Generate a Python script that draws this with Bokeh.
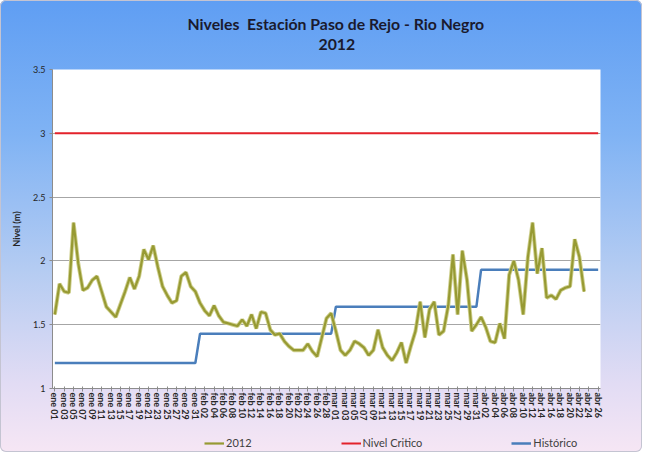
from bokeh.plotting import figure
from bokeh.layouts import column
from bokeh.models import Range1d, FixedTicker, Legend, LegendItem, Title
from bokeh.embed import file_html
from bokeh.resources import INLINE

# ---------------- data ----------------
months = ["ene", "feb", "mar", "abr"]
days_in_month = [31, 29, 31, 26]
dates = [f"{m} {d:02d}" for m, n in zip(months, days_in_month) for d in range(1, n + 1)]

nivel_2012 = [
    1.58, 1.82, 1.76, 1.75, 2.30, 1.98, 1.77, 1.79, 1.85, 1.88,
    1.76, 1.64, 1.60, 1.56, 1.66, 1.76, 1.87, 1.78, 1.88, 2.09,
    2.01, 2.12, 1.95, 1.80, 1.73, 1.67, 1.69, 1.88, 1.91, 1.80,
    1.76, 1.67, 1.61, 1.57, 1.65, 1.57, 1.52, 1.51, 1.50, 1.49,
    1.54, 1.49, 1.58, 1.47, 1.60, 1.59, 1.46, 1.42, 1.43, 1.37,
    1.33, 1.30, 1.30, 1.30, 1.35, 1.29, 1.25, 1.40, 1.55, 1.59,
    1.45, 1.30, 1.26, 1.30, 1.37, 1.35, 1.32, 1.26, 1.30, 1.46,
    1.32, 1.26, 1.22, 1.28, 1.36, 1.20, 1.33, 1.45, 1.68, 1.40,
    1.62, 1.68, 1.42, 1.45, 1.65, 2.05, 1.58, 2.08, 1.85, 1.45,
    1.50, 1.56, 1.48, 1.37, 1.36, 1.51, 1.39, 1.89, 2.00, 1.85,
    1.58, 2.03, 2.30, 1.90, 2.10, 1.71, 1.73, 1.70, 1.77, 1.79,
    1.80, 2.17, 2.03, 1.76,
]
nivel_critico = 3.0
historico_mensual = [1.20, 1.43, 1.64, 1.93]

y_ticks = [1, 1.5, 2, 2.5, 3, 3.5]
y_tick_labels = ["1", "1.5", "2", "2.5", "3", "3.5"]
grid_levels = [1.5, 2, 2.5, 3]

title_1 = "Niveles\u00a0 Estación Paso de Rejo - Rio Negro"
title_2 = "2012"
legend_labels = ["2012", "Nivel Critico", "Histórico"]

# ---------------- derived series ----------------
idx_all = list(range(len(dates)))
idx_2012 = list(range(len(nivel_2012)))
critico = [nivel_critico for _ in dates]
historico = [v for v, n in zip(historico_mensual, days_in_month) for _ in range(n)]

FONT = "Lato"
TXT = "#262626"
C_2012, C_CRIT, C_HIST = "#979a33", "#e3222b", "#4a7ebb"

W, H = 642, 452
H1 = 430               # main chart height, legend strip below
LH = H - H1
ML, MR, MT = 52, 42, 69
MB = H1 - 388

p = figure(width=W, height=H1, output_backend="svg", toolbar_location=None,
           title=None,
           x_range=Range1d(-0.5, len(dates) - 0.5), y_range=Range1d(1, 3.5),
           min_border_left=ML, min_border_right=MR, min_border_top=MT, min_border_bottom=MB)

p.border_fill_color = None
p.background_fill_color = "white"
p.outline_line_color = None

# titles: spacer nearest the plot, then "2012", then the main line
p.add_layout(Title(text="\u00a0", text_font_size="1px", standoff=17), "above")
p.add_layout(Title(text=title_2, align="left", offset=266, standoff=0,
                   text_font=FONT, text_font_size="15.8px", text_font_style="bold",
                   text_color="#1a1a2e"), "above")
p.add_layout(Title(text=title_1, align="left", offset=135, standoff=7,
                   text_font=FONT, text_font_size="15.8px", text_font_style="bold",
                   text_color="#1a1a2e"), "above")

# lines
p.line(idx_all, critico, line_color=C_CRIT, line_width=2)
p.line(idx_all, historico, line_color=C_HIST, line_width=2.5)
p.line(idx_2012, nivel_2012, line_color="#cfd08f", line_width=4)
p.line(idx_2012, nivel_2012, line_color=C_2012, line_width=2.2)

# axes
p.yaxis.ticker = FixedTicker(ticks=y_ticks)
p.yaxis.major_label_overrides = {t: l for t, l in zip(y_ticks, y_tick_labels)}
p.yaxis.axis_label = "Nivel (m)"
p.yaxis.axis_label_text_font = FONT
p.yaxis.axis_label_text_font_size = "9px"
p.yaxis.axis_label_text_font_style = "bold"
p.yaxis.axis_label_text_color = TXT
p.yaxis.axis_label_standoff = 8
p.yaxis.major_label_text_font = FONT
p.yaxis.major_label_text_font_size = "9px"
p.yaxis.major_label_text_color = TXT
p.yaxis.axis_line_color = "#8c8c8c"
p.yaxis.major_tick_line_color = "#8c8c8c"
p.yaxis.major_tick_out = 3
p.yaxis.major_tick_in = 0
p.yaxis.minor_tick_line_color = None
p.yaxis.major_label_standoff = 4

p.xaxis.ticker = FixedTicker(ticks=idx_all[::2])
p.xaxis.major_label_overrides = {i: dates[i] for i in idx_all[::2]}
p.xaxis.major_label_orientation = "vertical"
p.xaxis.major_label_text_font = FONT
p.xaxis.major_label_text_font_size = "9px"
p.xaxis.major_label_text_font_style = "bold"
p.xaxis.major_label_text_color = TXT
p.xaxis.axis_line_color = "#8c8c8c"
p.xaxis.major_tick_line_color = "#8c8c8c"
p.xaxis.major_tick_out = 3
p.xaxis.major_tick_in = 2
p.xaxis.minor_tick_line_color = None
p.xaxis.major_label_standoff = 1

p.xgrid.visible = False
p.ygrid.ticker = FixedTicker(ticks=grid_levels)
p.ygrid.grid_line_color = "#a6a6a6"
p.ygrid.grid_line_width = 1

# legend strip (its own small figure so that the legend is not clipped);
# its key lines carry the same series but lie outside this strip's ranges
pl = figure(width=W, height=LH, output_backend="svg", toolbar_location=None, title=None,
            x_range=Range1d(-10, -5), y_range=Range1d(-10, -5), x_axis_type=None, y_axis_type=None,
            min_border=0, min_border_left=0, min_border_right=0, min_border_top=0, min_border_bottom=0)
pl.border_fill_color = None
pl.background_fill_color = None
pl.outline_line_color = None
pl.grid.visible = False
k1 = pl.line(idx_2012, nivel_2012, line_color=C_2012, line_width=2.2)
k2 = pl.line(idx_all, critico, line_color=C_CRIT, line_width=2)
k3 = pl.line(idx_all, historico, line_color=C_HIST, line_width=2.5)
legend = Legend(items=[LegendItem(label=lab, renderers=[r]) for lab, r in zip(legend_labels, [k1, k2, k3])],
                orientation="horizontal", location=(152, 3),
                spacing=89, glyph_width=20, glyph_height=12, label_height=12,
                label_standoff=2, padding=0, margin=0,
                label_text_font=FONT, label_text_font_size="11px", label_text_color="#404040",
                background_fill_alpha=0, border_line_color=None)
pl.add_layout(legend)

layout = column(p, pl, spacing=0, styles={
    "background": "linear-gradient(to bottom, #5f9ef3 0%, #80b3f4 30%, #b5ccf2 60%, #e2dcf4 85%, #f6e6f4 100%)",
    "border-radius": "6px",
    "box-shadow": "inset 0 0 0 1px #c4c4d2",
})

open("out.html", "w").write(file_html(layout, INLINE))
